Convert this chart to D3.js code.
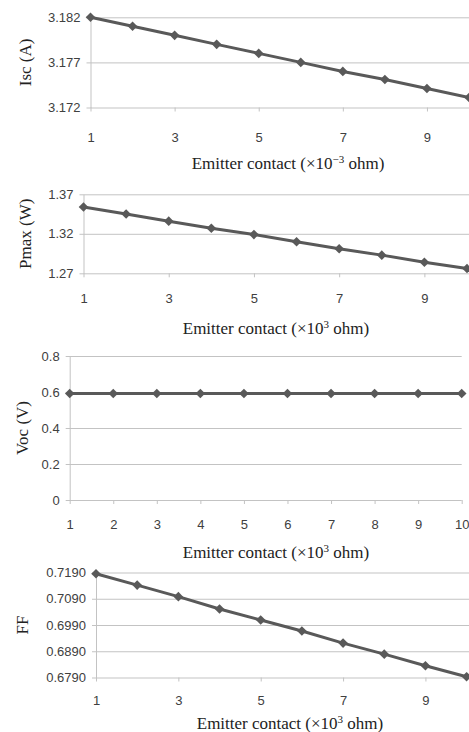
<!DOCTYPE html>
<html>
<head>
<meta charset="utf-8">
<script src="https://cdn.jsdelivr.net/npm/d3@7"></script>
<style>
  body { margin: 0; background: #fff; }
  svg { display: block; }
</style>
</head>
<body>
<svg id="svg" width="469" height="732"></svg>
<script>
// chart data
const xValues = [1, 2, 3, 4, 5, 6, 7, 8, 9, 10];
const iscValues = [3.1820, 3.1810, 3.1800, 3.1790, 3.1780, 3.1770, 3.1760, 3.1751, 3.1741, 3.1731];
const pmaxValues = [1.354, 1.345, 1.336, 1.327, 1.319, 1.310, 1.301, 1.293, 1.284, 1.276];
const vocValues = [0.592, 0.592, 0.592, 0.592, 0.592, 0.592, 0.592, 0.592, 0.592, 0.592];
const ffValues = [0.7185, 0.7142, 0.7098, 0.7051, 0.7009, 0.6967, 0.6921, 0.6879, 0.6835, 0.6793];

const iscTicks = [3.172, 3.177, 3.182];
const pmaxTicks = [1.27, 1.32, 1.37];
const vocTicks = [0, 0.2, 0.4, 0.6, 0.8];
const ffTicks = [0.679, 0.689, 0.699, 0.709, 0.719];
const oddXTicks = [1, 3, 5, 7, 9];
const allXTicks = [1, 2, 3, 4, 5, 6, 7, 8, 9, 10];

// layout of the four stacked panels
const panels = [
  { values: iscValues, yTicks: iscTicks, fmt: d3.format(".3f"), xTicks: oddXTicks,
    left: 90.5, right: 469, gridEnd: 469, top: 17.3, bottom: 107.5,
    labelY: 137, titleY: 163, titleX: 288, ylabel: "Isc (A)", ylabelX: 25, exp: "\u22123" },
  { values: pmaxValues, yTicks: pmaxTicks, fmt: d3.format(".2f"), xTicks: oddXTicks,
    left: 83.5, right: 467, gridEnd: 469, top: 194.3, bottom: 273.3,
    labelY: 298, titleY: 328, titleX: 276, ylabel: "Pmax (W)", ylabelX: 25, exp: "3" },
  { values: vocValues, yTicks: vocTicks, fmt: d => d === 0 ? "0" : d3.format(".1f")(d), xTicks: allXTicks,
    left: 69.7, right: 461.7, gridEnd: 461.7, top: 356, bottom: 500,
    labelY: 524, titleY: 552, titleX: 276, ylabel: "Voc (V)", ylabelX: 22, exp: "3" },
  { values: ffValues, yTicks: ffTicks, fmt: d3.format(".4f"), xTicks: oddXTicks,
    left: 96, right: 466.6, gridEnd: 469, top: 572.5, bottom: 677.5,
    labelY: 700, titleY: 723, titleX: 290, ylabel: "FF", ylabelX: 22, exp: "3" }
];

const lineColor = "#595959";
const gridColor = "#c3c3c3";
const sans = "'Liberation Sans', Arial, sans-serif";
const serif = "'Liberation Serif', 'Times New Roman', serif";

const mySvg = d3.select("#svg");

panels.forEach(p => {
  const yDomain = d3.extent(p.yTicks);
  const xScale = d3.scaleLinear().domain([1, 10]).range([p.left, p.right]);
  const yScale = d3.scaleLinear().domain(yDomain).range([p.bottom, p.top]);

  const g = mySvg.append("g");

  // y axis with gridlines
  const yAxis = d3.axisLeft(yScale)
    .tickValues(p.yTicks)
    .tickFormat(p.fmt)
    .tickSizeInner(-(p.gridEnd - p.left))
    .tickSizeOuter(0)
    .tickPadding(10);
  const ya = g.append("g")
    .attr("transform", `translate(${p.left},0)`)
    .call(yAxis);
  ya.select(".domain").attr("stroke", gridColor);
  ya.selectAll(".tick line").attr("x1", -4).attr("stroke", gridColor);
  ya.selectAll(".tick text")
    .attr("font-family", sans).attr("font-size", 13).attr("fill", "#404040");

  // x axis: only ticks and labels, the bottom gridline is the axis line
  const xAxis = d3.axisBottom(xScale)
    .tickValues(p.xTicks)
    .tickSize(4)
    .tickSizeOuter(0);
  const xa = g.append("g")
    .attr("transform", `translate(0,${p.bottom})`)
    .call(xAxis);
  xa.select(".domain").remove();
  xa.selectAll(".tick line").attr("stroke", gridColor);
  xa.selectAll(".tick text")
    .attr("y", p.labelY - p.bottom).attr("dy", "0.35em")
    .attr("font-family", sans).attr("font-size", 13).attr("fill", "#404040");

  // series line
  const line = d3.line()
    .x((d, i) => xScale(xValues[i]))
    .y(d => yScale(d));
  g.append("path")
    .datum(p.values)
    .attr("d", line)
    .attr("fill", "none")
    .attr("stroke", lineColor)
    .attr("stroke-width", 3);

  // diamond markers
  g.selectAll(".marker")
    .data(p.values)
    .enter().append("path")
    .attr("class", "marker")
    .attr("d", d3.symbol(d3.symbolSquare, 46))
    .attr("transform", (d, i) => `translate(${xScale(xValues[i])},${yScale(d)}) rotate(45)`)
    .attr("fill", lineColor);

  // axis titles
  const t = g.append("text")
    .attr("x", p.titleX).attr("y", p.titleY).attr("dy", "0.35em")
    .attr("text-anchor", "middle")
    .attr("font-family", serif).attr("font-size", 17).attr("fill", "#222");
  t.append("tspan").text("Emitter contact (\u00d710");
  t.append("tspan").text(p.exp).attr("font-size", 11).attr("dy", "-0.55em");
  t.append("tspan").text(" ohm)").attr("dy", "0.35em");

  g.append("text")
    .attr("transform", `translate(${p.ylabelX},${(p.top + p.bottom) / 2}) rotate(-90)`)
    .attr("dy", "0.35em")
    .attr("text-anchor", "middle")
    .attr("font-family", serif).attr("font-size", 17).attr("fill", "#222")
    .text(p.ylabel);
});
</script>
</body>
</html>
